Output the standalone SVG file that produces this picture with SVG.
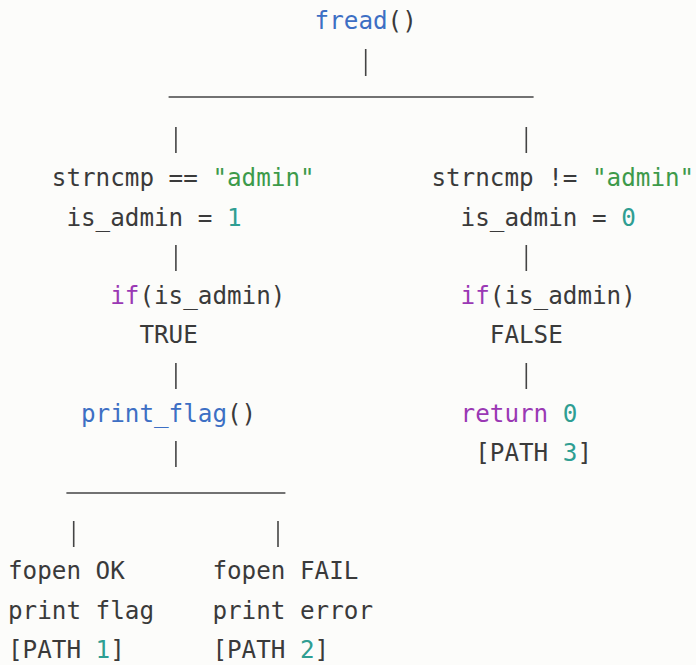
<svg xmlns="http://www.w3.org/2000/svg" width="696" height="665" viewBox="0 0 696 665">
  <style>
    text { font-family: "DejaVu Sans Mono", "Liberation Mono", monospace; font-size: 24.25px; fill: #3a3a3a; }
    .fn { fill: #3d6fc4; }
    .str { fill: #3d9a4a; }
    .kw { fill: #9a38b4; }
    .num { fill: #2f9e92; }
    .wire { stroke: #444; stroke-width: 1.6; fill: none; }
  </style>
  <rect width="696" height="665" fill="#fcfcfa"/>

  <!-- tree wiring: pipes and horizontal rails -->
  <g id="connectors" class="wire">
    <line x1="365.7" y1="49" x2="365.7" y2="76"/>
    <line x1="168.6" y1="97" x2="533.6" y2="97"/>
    <line x1="175.9" y1="127" x2="175.9" y2="153"/>
    <line x1="526.3" y1="127" x2="526.3" y2="153"/>
    <line x1="175.9" y1="245" x2="175.9" y2="271"/>
    <line x1="526.3" y1="245" x2="526.3" y2="271"/>
    <line x1="175.9" y1="363" x2="175.9" y2="389"/>
    <line x1="526.3" y1="363" x2="526.3" y2="389"/>
    <line x1="175.9" y1="441" x2="175.9" y2="467"/>
    <line x1="66.4" y1="493" x2="285.4" y2="493"/>
    <line x1="73.7" y1="521" x2="73.7" y2="547"/>
    <line x1="278" y1="521" x2="278" y2="547"/>
  </g>

  <g id="fread">
    <text x="314.6" y="29"><tspan class="fn">fread</tspan>()</text>
  </g>

  <g id="match">
    <text x="51.8" y="186">strncmp == <tspan class="str">"admin"</tspan></text>
    <text x="66.4" y="225.5">is_admin = <tspan class="num">1</tspan></text>
  </g>

  <g id="nomatch">
    <text x="431.4" y="186">strncmp != <tspan class="str">"admin"</tspan></text>
    <text x="460.6" y="225.5">is_admin = <tspan class="num">0</tspan></text>
  </g>

  <g id="check-true">
    <text x="110.2" y="304.1"><tspan class="kw">if</tspan>(is_admin)</text>
    <text x="139.4" y="343.4">TRUE</text>
  </g>

  <g id="check-false">
    <text x="460.6" y="304.1"><tspan class="kw">if</tspan>(is_admin)</text>
    <text x="489.8" y="343.4">FALSE</text>
  </g>

  <g id="print-flag">
    <text x="81" y="422"><tspan class="fn">print_flag</tspan>()</text>
  </g>

  <g id="return">
    <text x="460.6" y="422"><tspan class="kw">return</tspan> <tspan class="num">0</tspan></text>
    <text x="475.2" y="461.3">[PATH <tspan class="num">3</tspan>]</text>
  </g>

  <g id="fopen-ok">
    <text x="8" y="579.2">fopen OK</text>
    <text x="8" y="618.5">print flag</text>
    <text x="8" y="657.8">[PATH <tspan class="num">1</tspan>]</text>
  </g>

  <g id="fopen-fail">
    <text x="212.4" y="579.2">fopen FAIL</text>
    <text x="212.4" y="618.5">print error</text>
    <text x="212.4" y="657.8">[PATH <tspan class="num">2</tspan>]</text>
  </g>
</svg>
